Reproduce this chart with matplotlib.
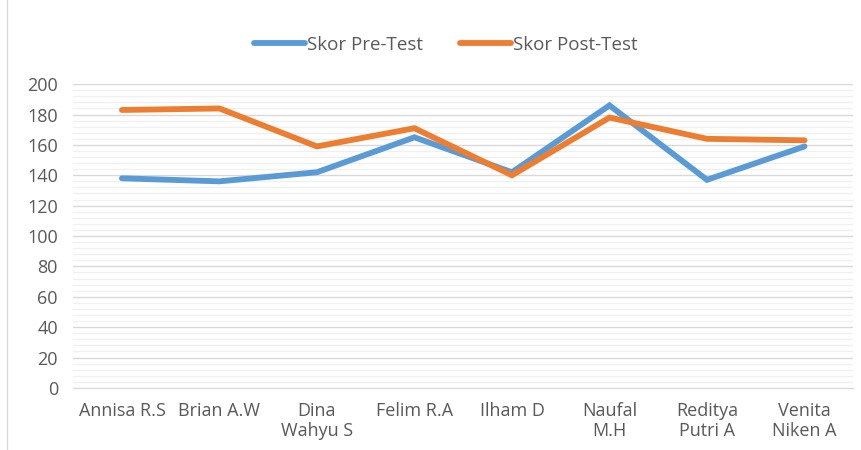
import matplotlib.pyplot as plt
from matplotlib.patches import Rectangle
from matplotlib.ticker import MultipleLocator

plt.rcParams['font.family'] = ['Open Sans', 'DejaVu Sans']

names = ['Annisa R.S', 'Brian A.W', 'Dina\nWahyu S', 'Felim R.A', 'Ilham D',
         'Naufal\nM.H', 'Reditya\nPutri A', 'Venita\nNiken A']
pre_test = [138, 136, 142, 165, 142, 186, 137, 159]
post_test = [183, 184, 159, 171, 140, 178, 164, 163]

txt = '#595959'
fig = plt.figure(figsize=(8.61, 4.5), dpi=100)
ax = fig.add_axes([0.085, 0.138, 0.906, 0.675])

x = range(len(names))
ax.plot(x, pre_test, color='#5B9BD5', lw=4.2, solid_capstyle='round',
        solid_joinstyle='miter', label='Skor Pre-Test', zorder=3)
ax.plot(x, post_test, color='#ED7D31', lw=4.2, solid_capstyle='round',
        solid_joinstyle='miter', label='Skor Post-Test', zorder=3)

ax.set_xlim(-0.5, len(names) - 0.5)
ax.set_ylim(0, 200)
ax.yaxis.set_major_locator(MultipleLocator(20))
ax.yaxis.set_minor_locator(MultipleLocator(4))
ax.grid(axis='y', which='major', color='#D9D9D9', lw=1)
ax.grid(axis='y', which='minor', color='#F0F0F0', lw=1)
ax.set_axisbelow(True)
for s in ['top', 'right', 'left']:
    ax.spines[s].set_visible(False)
ax.spines['bottom'].set_color('#D9D9D9')
ax.tick_params(axis='both', which='both', length=0, colors=txt, labelsize=13)
ax.tick_params(axis='y', pad=11)
ax.tick_params(axis='x', pad=10)
ax.set_xticks(list(x))
ax.set_xticklabels(names, linespacing=1.15)

fig.legend(loc='center', bbox_to_anchor=(0.518, 0.9), ncol=2, frameon=False,
           fontsize=13.5, labelcolor=txt, handlelength=2.7, handletextpad=0.1,
           columnspacing=2.0)

fig.patches.append(Rectangle((7 / 861, -0.01), 1.0, 1.02, transform=fig.transFigure,
                             fill=False, edgecolor='#D9D9D9', lw=1))

fig.savefig('out.png', dpi=100)
